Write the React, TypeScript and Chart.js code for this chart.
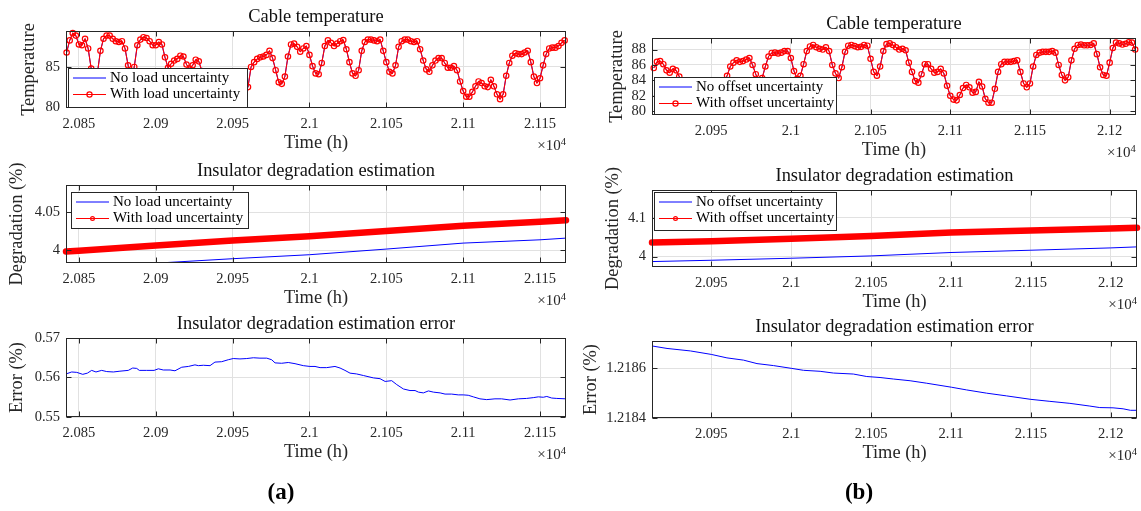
import React, { useEffect, useRef } from 'react';
import { Chart, registerables } from 'chart.js';

Chart.register(...registerables);

const W = 1141;
const H = 511;
const FONT = '"Liberation Serif", "Times New Roman", serif';
const AXIS = '#262626';
const GRID = '#e1e1e1';
const BLUE = '#0000ff';
const RED = '#ff0000';
const Y_AXIS_W = 60;
const X_AXIS_H = 28;

// ---------------- data: (a) load uncertainty ----------------
const tempTimesA = [
  20842, 20844, 20846, 20848, 20850, 20852, 20854, 20856, 20858, 20860,
  20862, 20864, 20866, 20868, 20870, 20872, 20874, 20876, 20878, 20880,
  20882, 20884, 20886, 20888, 20890, 20892, 20894, 20896, 20898, 20900,
  20902, 20904, 20906, 20908, 20910, 20912, 20914, 20916, 20918, 20920,
  20922, 20924, 20926, 20928, 20930, 20932, 20934, 20936, 20938, 20940,
  20942, 20944, 20946, 20948, 20950, 20952, 20954, 20956, 20958, 20960,
  20962, 20964, 20966, 20968, 20970, 20972, 20974, 20976, 20978, 20980,
  20982, 20984, 20986, 20988, 20990, 20992, 20994, 20996, 20998, 21000,
  21002, 21004, 21006, 21008, 21010, 21012, 21014, 21016, 21018, 21020,
  21022, 21024, 21026, 21028, 21030, 21032, 21034, 21036, 21038, 21040,
  21042, 21044, 21046, 21048, 21050, 21052, 21054, 21056, 21058, 21060,
  21062, 21064, 21066, 21068, 21070, 21072, 21074, 21076, 21078, 21080,
  21082, 21084, 21086, 21088, 21090, 21092, 21094, 21096, 21098, 21100,
  21102, 21104, 21106, 21108, 21110, 21112, 21114, 21116, 21118, 21120,
  21122, 21124, 21126, 21128, 21130, 21132, 21134, 21136, 21138, 21140,
  21142, 21144, 21146, 21148, 21150, 21152, 21154, 21156, 21158, 21160,
  21162, 21164, 21166,
];
const tempWithLoad = [
  86.8, 88.3, 89.2, 88.9, 87.8, 87.7, 88.5, 87.3, 84.8, 82.6,
  84.2, 87.0, 88.5, 88.9, 88.9, 88.5, 88.2, 88.1, 88.2, 87.3,
  85.2, 83.2, 85.0, 87.7, 88.4, 88.7, 88.6, 88.2, 87.7, 87.7,
  88.1, 87.8, 86.2, 84.9, 85.4, 85.8, 86.0, 86.4, 86.3, 85.3,
  84.8, 85.2, 85.9, 85.7, 84.5, 83.0, 82.3, 82.6, 83.2, 83.5,
  83.1, 82.4, 82.0, 82.3, 82.9, 83.1, 82.7, 82.2, 82.1, 82.5,
  85.0, 85.6, 86.0, 86.2, 86.3, 86.5, 87.0, 86.1, 84.6, 83.1,
  82.9, 83.8, 86.3, 87.8, 87.9, 87.5, 86.9, 87.3, 87.6, 86.5,
  85.1, 84.2, 84.1, 85.5, 87.6, 88.3, 88.0, 87.6, 87.9, 88.2,
  88.35, 87.2, 85.6, 84.2, 83.9, 84.6, 87.0, 88.1, 88.4, 88.4,
  88.3, 88.2, 88.4, 87.0, 85.6, 84.4, 84.2, 85.2, 87.5, 88.2,
  88.4, 88.4, 88.2, 88.1, 88.2, 87.2, 85.8, 84.7, 84.4, 85.2,
  85.8, 86.1, 86.1, 85.5, 84.9, 84.9, 85.1, 84.6, 83.2, 82.0,
  81.3, 81.3, 81.9, 82.6, 83.2, 83.0, 82.6, 82.5, 83.4, 82.6,
  81.6, 81.0, 81.6, 83.9, 85.5, 86.4, 86.7, 86.6, 86.6, 86.8,
  87.0, 85.6, 83.8, 83.0, 83.6, 85.2, 86.6, 87.3, 87.4, 87.4,
  87.6, 88.0, 88.3,
];
const tempNoLoad = tempWithLoad;

const degTimesA = [20841.6, 20850, 20900, 20950, 21000, 21050, 21100, 21150, 21166.9];
const degWithLoad = [3.9985, 3.9995, 4.0065, 4.013, 4.0185, 4.0255, 4.0322, 4.0376, 4.0396];
const degNoLoadTimes = [20902, 20950, 21000, 21050, 21100, 21150, 21166.9];
const degNoLoad = [3.9836, 3.9892, 3.9944, 4.0018, 4.0096, 4.0139, 4.0161];

const errTimesA = [
  20841.6, 20845.3, 20848.6, 20852.5, 20855.5, 20858.3, 20861.1, 20864.8, 20868.1, 20872.4,
  20876.7, 20882.1, 20885.0, 20887.6, 20889.3, 20894.1, 20898.9, 20901.7, 20904.9, 20909.3,
  20912.5, 20916.9, 20921.2, 20925.5, 20927.7, 20931.0, 20935.3, 20938.5, 20942.9, 20947.2,
  20950.4, 20954.8, 20959.2, 20963.5, 20967.8, 20972.2, 20975.4, 20977.6, 20981.9, 20986.2,
  20990.6, 20996.0, 21000.3, 21003.6, 21006.9, 21011.2, 21016.6, 21019.9, 21023.1, 21026.4,
  21030.7, 21035.1, 21041.6, 21045.9, 21049.2, 21053.5, 21056.8, 21061.1, 21065.4, 21068.7,
  21070.9, 21074.1, 21077.4, 21080.6, 21085.0, 21088.2, 21092.5, 21096.8, 21100.1, 21103.3,
  21106.6, 21110.9, 21115.3, 21120.7, 21125.0, 21130.5, 21135.9, 21141.3, 21145.6, 21148.9,
  21152.1, 21154.4, 21157.6, 21160.9, 21166.9,
];
const errLoad = [
  0.5609, 0.5614, 0.5613, 0.5608, 0.5611, 0.5618, 0.5614, 0.5618, 0.5615, 0.5614,
  0.5616, 0.5618, 0.5624, 0.5623, 0.5618, 0.5618, 0.5618, 0.5622, 0.5619, 0.5619,
  0.5617, 0.5626, 0.5628, 0.5632, 0.563, 0.5631, 0.563, 0.5639, 0.564, 0.5645,
  0.5648, 0.5647, 0.5648, 0.565, 0.5649, 0.5649, 0.5645, 0.5637, 0.5636, 0.5638,
  0.5635, 0.563, 0.5628, 0.5628, 0.5625, 0.5625, 0.5628, 0.5624, 0.5618, 0.5611,
  0.5609, 0.5605, 0.5599, 0.5597, 0.559, 0.5592, 0.5582, 0.5571, 0.5567, 0.5567,
  0.5563, 0.5561, 0.5566, 0.5563, 0.5561, 0.5558, 0.5558, 0.5556, 0.5556, 0.5555,
  0.5551, 0.5546, 0.5544, 0.5546, 0.5546, 0.5543, 0.5546, 0.5547, 0.5549, 0.5551,
  0.555, 0.5552, 0.5548, 0.5547, 0.5546,
];

// ---------------- data: (b) offset uncertainty ----------------
const tempTimesB = [
  20914, 20916, 20918, 20920, 20922, 20924, 20926, 20928, 20930, 20932,
  20934, 20936, 20938, 20940, 20942, 20944, 20946, 20948, 20950, 20952,
  20954, 20956, 20958, 20960, 20962, 20964, 20966, 20968, 20970, 20972,
  20974, 20976, 20978, 20980, 20982, 20984, 20986, 20988, 20990, 20992,
  20994, 20996, 20998, 21000, 21002, 21004, 21006, 21008, 21010, 21012,
  21014, 21016, 21018, 21020, 21022, 21024, 21026, 21028, 21030, 21032,
  21034, 21036, 21038, 21040, 21042, 21044, 21046, 21048, 21050, 21052,
  21054, 21056, 21058, 21060, 21062, 21064, 21066, 21068, 21070, 21072,
  21074, 21076, 21078, 21080, 21082, 21084, 21086, 21088, 21090, 21092,
  21094, 21096, 21098, 21100, 21102, 21104, 21106, 21108, 21110, 21112,
  21114, 21116, 21118, 21120, 21122, 21124, 21126, 21128, 21130, 21132,
  21134, 21136, 21138, 21140, 21142, 21144, 21146, 21148, 21150, 21152,
  21154, 21156, 21158, 21160, 21162, 21164, 21166, 21168, 21170, 21172,
  21174, 21176, 21178, 21180, 21182, 21184, 21186, 21188, 21190, 21192,
  21194, 21196, 21198, 21200, 21202, 21204, 21206, 21208, 21210, 21212,
  21214, 21216,
];
const tempWithOffset = [
  85.6, 86.4, 86.5, 86.1, 85.3, 85.0, 85.5, 85.3, 84.5, 83.6,
  83.0, 82.7, 82.5, 82.6, 83.0, 83.3, 83.1, 82.8, 82.7, 82.9,
  83.2, 83.5, 83.8, 84.6, 85.8, 86.3, 86.6, 86.4, 86.5, 86.7,
  86.9, 86.0, 84.8, 83.8, 84.3, 85.8, 87.1, 87.56, 87.6, 87.5,
  87.6, 87.8, 87.8, 86.9, 85.2, 84.2, 84.6, 86.1, 87.8, 88.4,
  88.6, 88.3, 88.1, 88.0, 88.3, 87.8, 86.0, 84.9, 84.3, 85.7,
  87.7, 88.5, 88.6, 88.45, 88.3, 88.35, 88.6, 88.5, 86.8, 85.1,
  84.6, 85.8, 87.8, 88.7, 88.8, 88.6, 88.3, 88.0, 88.1, 87.9,
  86.3, 85.1, 83.9, 83.7, 84.8, 86.1, 86.1, 85.5, 85.0, 85.1,
  85.5, 84.9, 83.3, 82.0, 81.5, 81.4, 82.1, 83.0, 83.4, 83.1,
  82.4, 82.5, 83.8, 83.2, 81.6, 81.1, 81.1, 82.9, 85.1, 86.1,
  86.4, 86.4, 86.4, 86.5, 86.6, 85.1, 83.6, 83.1, 83.6, 85.8,
  87.3, 87.6, 87.7, 87.7, 87.7, 87.8, 87.6, 86.0, 84.7, 84.0,
  84.4, 86.6, 88.1, 88.6, 88.65, 88.55, 88.55, 88.6, 88.8, 87.4,
  85.7, 84.7, 84.6, 86.3, 88.2, 88.9, 88.8, 88.65, 88.75, 88.95,
  88.9, 88.0,
];
const tempNoOffset = tempWithOffset;

const degTimesB = [20912.9, 20950, 21000, 21050, 21100, 21150, 21200, 21216.4];
const degWithOffset = [4.0363, 4.0396, 4.0456, 4.053, 4.0622, 4.0674, 4.0725, 4.0741];
const degNoOffset = [3.987, 3.9904, 3.9956, 4.0016, 4.0104, 4.0163, 4.0223, 4.0249];

const errTimesB = [
  20912.9, 20922.3, 20936.9, 20950.0, 20959.8, 20970.2, 20978.6, 20988.9, 21000.0, 21007.7,
  21018.1, 21026.4, 21038.9, 21047.3, 21055.6, 21063.9, 21074.4, 21084.8, 21100.2, 21109.8,
  21122.3, 21134.8, 21150.0, 21161.9, 21174.4, 21186.9, 21193.1, 21201.4, 21207.7, 21212.3,
  21216.4,
];
const errOffset = [
  1.21869, 1.21868, 1.21867, 1.218656, 1.218642, 1.218633, 1.218619, 1.218611, 1.2186, 1.218592,
  1.218588, 1.218581, 1.218577, 1.218567, 1.218563, 1.218557, 1.21855, 1.21854, 1.218524, 1.218513,
  1.2185, 1.218489, 1.218475, 1.218467, 1.218459, 1.218448, 1.218442, 1.218441, 1.218437, 1.218431,
  1.218431,
];

// ---------------- ticks ----------------
const xTicksA = [20850, 20900, 20950, 21000, 21050, 21100, 21150];
const xTicksB = [20950, 21000, 21050, 21100, 21150, 21200];
const yTicksTempA = [80, 85];
const yTicksTempB = [80, 82, 84, 86, 88];
const yTicksDegA = [4, 4.05];
const yTicksDegB = [4, 4.1];
const yTicksErrA = [0.55, 0.56, 0.57];
const yTicksErrB = [1.2184, 1.2186];

const legendLoad = ['No load uncertainty', 'With load uncertainty'];
const legendOffset = ['No offset uncertainty', 'With offset uncertainty'];

const pts = (xs: number[], ys: number[]) => xs.map((x, i) => ({ x, y: ys[i] }));
const fmt = (v: number) => String(Number(v.toFixed(6)));

const tempRed = (xs: number[], ys: number[]) => ({
  data: pts(xs, ys), borderColor: RED, borderWidth: 1.1, pointRadius: 2.7, pointBorderWidth: 1.2,
  pointBorderColor: RED, pointBackgroundColor: 'rgba(0,0,0,0)', tension: 0, clip: false,
});
const thinBlue = (xs: number[], ys: number[]) => ({
  data: pts(xs, ys), borderColor: BLUE, borderWidth: 1, pointRadius: 0, tension: 0, clip: 0,
});
const thickRed = (xs: number[], ys: number[]) => ({
  data: pts(xs, ys), borderColor: RED, borderWidth: 6.5, pointRadius: 0, tension: 0, clip: false,
  borderCapStyle: 'round',
});

type Panel = {
  area: [number, number, number, number];
  xRange: [number, number];
  yRange: [number, number];
  xTicks: number[];
  yTicks: number[];
  title: string;
  ylabel: string;
  ylabelX: number;
  legend?: { box: [number, number, number, number]; labels: string[]; markerR: number };
  tag?: { text: string; x: number; y: number };
  datasets: any[];
};

const PANELS: Panel[] = [
  {
    area: [66, 31, 566, 108], xRange: [20841.6, 21166.9], yRange: [79.9, 89.47],
    xTicks: xTicksA, yTicks: yTicksTempA, title: 'Cable temperature', ylabel: 'Temperature', ylabelX: 29,
    legend: { box: [68, 68, 248, 108], labels: legendLoad, markerR: 2.6 },
    datasets: [tempRed(tempTimesA, tempWithLoad), thinBlue(tempTimesA, tempNoLoad)],
  },
  {
    area: [66, 185, 566, 263], xRange: [20841.6, 21166.9], yRange: [3.9836, 4.0855],
    xTicks: xTicksA, yTicks: yTicksDegA, title: 'Insulator degradation estimation', ylabel: 'Degradation (%)', ylabelX: 17,
    legend: { box: [71, 192, 249, 229], labels: legendLoad, markerR: 1.9 },
    datasets: [thickRed(degTimesA, degWithLoad), thinBlue(degNoLoadTimes, degNoLoad)],
  },
  {
    area: [66, 338, 566, 417], xRange: [20841.6, 21166.9], yRange: [0.55, 0.57],
    xTicks: xTicksA, yTicks: yTicksErrA, title: 'Insulator degradation estimation error', ylabel: 'Error (%)', ylabelX: 17,
    tag: { text: '(a)', x: 281, y: 493 },
    datasets: [thinBlue(errTimesA, errLoad)],
  },
  {
    area: [652, 38, 1137, 115], xRange: [20912.9, 21216.4], yRange: [79.5, 89.5],
    xTicks: xTicksB, yTicks: yTicksTempB, title: 'Cable temperature', ylabel: 'Temperature', ylabelX: 617,
    legend: { box: [654, 77, 837, 115], labels: legendOffset, markerR: 2.6 },
    datasets: [tempRed(tempTimesB, tempWithOffset), thinBlue(tempTimesB, tempNoOffset)],
  },
  {
    area: [652, 190, 1137, 267], xRange: [20912.9, 21216.4], yRange: [3.973, 4.1717],
    xTicks: xTicksB, yTicks: yTicksDegB, title: 'Insulator degradation estimation', ylabel: 'Degradation (%)', ylabelX: 613,
    legend: { box: [654, 192, 837, 231], labels: legendOffset, markerR: 1.9 },
    datasets: [thickRed(degTimesB, degWithOffset), thinBlue(degTimesB, degNoOffset)],
  },
  {
    area: [652, 341, 1137, 418], xRange: [20912.9, 21216.4], yRange: [1.2184, 1.21871],
    xTicks: xTicksB, yTicks: yTicksErrB, title: 'Insulator degradation estimation error', ylabel: 'Error (%)', ylabelX: 591,
    tag: { text: '(b)', x: 859, y: 493 },
    datasets: [thinBlue(errTimesB, errOffset)],
  },
];

const matlabPlugin = {
  id: 'matlabAxes',
  afterDraw(chart: any, _args: any, o: any) {
    const ctx = chart.ctx as CanvasRenderingContext2D;
    const a = chart.chartArea;
    const xs = chart.scales.x;
    const ys = chart.scales.y;
    const L = Math.round(a.left) + 0.5;
    const R = Math.round(a.right) - 0.5;
    const T = Math.round(a.top) + 0.5;
    const B = Math.round(a.bottom) - 0.5;
    const TL = 5;
    ctx.save();
    ctx.strokeStyle = AXIS;
    ctx.lineWidth = 1;
    ctx.beginPath();
    xs.ticks.forEach((t: any) => {
      const p = Math.round(xs.getPixelForValue(t.value)) + 0.5;
      ctx.moveTo(p, B); ctx.lineTo(p, B - TL);
      ctx.moveTo(p, T); ctx.lineTo(p, T + TL);
    });
    ys.ticks.forEach((t: any) => {
      const p = Math.round(ys.getPixelForValue(t.value)) + 0.5;
      ctx.moveTo(L, p); ctx.lineTo(L + TL, p);
      ctx.moveTo(R, p); ctx.lineTo(R - TL, p);
    });
    ctx.stroke();
    ctx.strokeRect(L, T, R - L, B - T);

    const cx = (a.left + a.right) / 2;
    ctx.fillStyle = '#111';
    ctx.textAlign = 'center';
    ctx.textBaseline = 'middle';
    ctx.font = `18.4px ${FONT}`;
    ctx.fillText(o.title, cx, a.top - 14);
    ctx.fillStyle = AXIS;
    ctx.fillText('Time (h)', cx, a.bottom + 35);
    ctx.save();
    ctx.translate(o.ylabelX, (a.top + a.bottom) / 2);
    ctx.rotate(-Math.PI / 2);
    ctx.fillText(o.ylabel, 0, 0);
    ctx.restore();

    // x10^4 multiplier
    ctx.textAlign = 'right';
    ctx.textBaseline = 'alphabetic';
    ctx.font = `10.5px ${FONT}`;
    const w4 = ctx.measureText('4').width;
    ctx.fillText('4', a.right, a.bottom + 37);
    ctx.font = `15px ${FONT}`;
    ctx.fillText('\u00d710', a.right - w4, a.bottom + 42);

    if (o.legend) {
      const [x1, y1, x2, y2] = o.legend.box;
      ctx.fillStyle = '#fff';
      ctx.fillRect(x1, y1, x2 - x1, y2 - y1);
      ctx.strokeStyle = AXIS;
      ctx.lineWidth = 1;
      ctx.strokeRect(x1 + 0.5, y1 + 0.5, x2 - x1 - 1, y2 - y1 - 1);
      const colors = [BLUE, RED];
      o.legend.labels.forEach((lab: string, i: number) => {
        const y = y1 + (i === 0 ? 10 : 26.5);
        ctx.strokeStyle = colors[i];
        ctx.lineWidth = 1;
        ctx.beginPath();
        ctx.moveTo(x1 + 5, y); ctx.lineTo(x1 + 38, y);
        ctx.stroke();
        if (i === 1) {
          ctx.lineWidth = 1.2;
          ctx.beginPath();
          ctx.arc(x1 + 21.5, y, o.legend.markerR, 0, Math.PI * 2);
          ctx.stroke();
        }
        ctx.fillStyle = '#000';
        ctx.font = `15px ${FONT}`;
        ctx.textAlign = 'left';
        ctx.textBaseline = 'middle';
        ctx.fillText(lab, x1 + 42, y);
      });
    }

    if (o.tag) {
      ctx.fillStyle = '#000';
      ctx.font = `bold 23px ${FONT}`;
      ctx.textAlign = 'center';
      ctx.textBaseline = 'middle';
      ctx.fillText(o.tag.text, o.tag.x, o.tag.y);
    }
    ctx.restore();
  },
};

function buildConfig(p: Panel): any {
  const tickFont = { family: FONT, size: 14.5 };
  return {
    type: 'line',
    data: { datasets: p.datasets },
    options: {
      animation: false,
      responsive: false,
      devicePixelRatio: 1,
      events: [],
      layout: {
        padding: {
          left: p.area[0] - Y_AXIS_W,
          top: p.area[1],
          right: W - p.area[2],
          bottom: H - p.area[3] - X_AXIS_H,
        },
      },
      plugins: {
        legend: { display: false },
        title: { display: false },
        tooltip: { enabled: false },
        matlabAxes: { title: p.title, ylabel: p.ylabel, ylabelX: p.ylabelX, legend: p.legend, tag: p.tag },
      },
      scales: {
        x: {
          type: 'linear', position: 'bottom', min: p.xRange[0], max: p.xRange[1],
          afterFit: (s: any) => { s.height = X_AXIS_H; s.paddingLeft = 0; s.paddingRight = 0; },
          afterBuildTicks: (s: any) => { s.ticks = p.xTicks.map((v) => ({ value: v })); },
          grid: { color: GRID, drawTicks: false, lineWidth: 1 },
          border: { display: false },
          ticks: {
            autoSkip: false, maxRotation: 0, minRotation: 0, padding: 7, color: AXIS, font: tickFont,
            callback: (v: any) => fmt(Number(v) / 1e4),
          },
        },
        y: {
          type: 'linear', position: 'left', min: p.yRange[0], max: p.yRange[1],
          afterFit: (s: any) => { s.width = Y_AXIS_W; s.paddingTop = 0; s.paddingBottom = 0; },
          afterBuildTicks: (s: any) => { s.ticks = p.yTicks.map((v) => ({ value: v })); },
          grid: { color: GRID, drawTicks: false, lineWidth: 1 },
          border: { display: false },
          ticks: { autoSkip: false, padding: 6, color: AXIS, font: tickFont, callback: (v: any) => fmt(Number(v)) },
        },
      },
    },
    plugins: [matlabPlugin],
  };
}

export default function App() {
  const refs = useRef<(HTMLCanvasElement | null)[]>([]);
  useEffect(() => {
    document.body.style.margin = '0';
    const charts = PANELS.map((p, i) => new Chart(refs.current[i] as HTMLCanvasElement, buildConfig(p)));
    return () => charts.forEach((c) => c.destroy());
  }, []);
  return (
    <div style={{ position: 'relative', width: W, height: H, background: '#fff' }}>
      {PANELS.map((_, i) => (
        <canvas
          key={i}
          ref={(el) => { refs.current[i] = el; }}
          width={W}
          height={H}
          style={{ position: 'absolute', left: 0, top: 0 }}
        />
      ))}
    </div>
  );
}
